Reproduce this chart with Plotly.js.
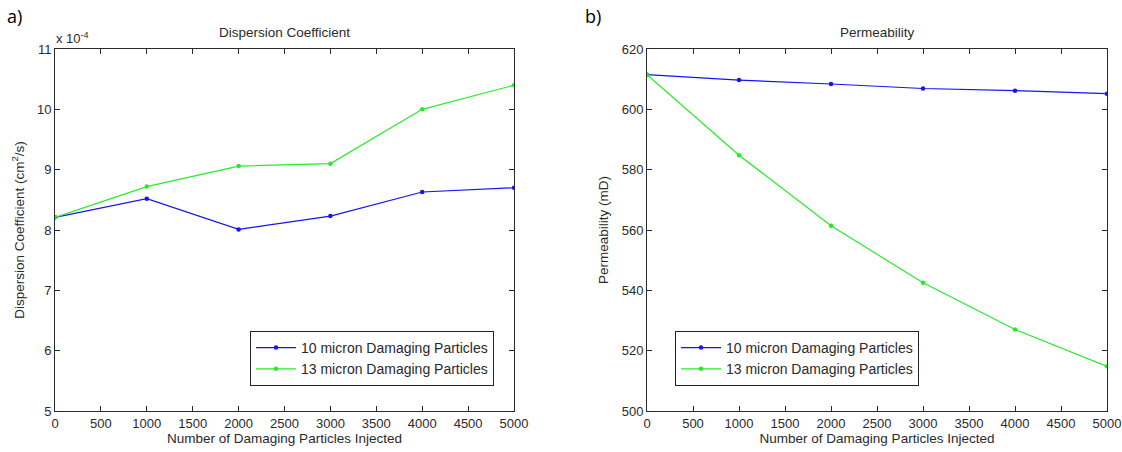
<!DOCTYPE html>
<html>
<head>
<meta charset="utf-8">
<script src="https://cdn.plot.ly/plotly-3.0.1.min.js"></script>
<style>html,body{margin:0;padding:0;background:#fff;}#chart{width:1122px;height:452px;}</style>
</head>
<body>
<div id="chart"></div>
<script>
// Shared x values
const particlesInjected = [0, 1000, 2000, 3000, 4000, 5000];
// Dispersion coefficient (units of 1e-4 cm^2/s)
const dispersion10 = [8.21, 8.52, 8.01, 8.23, 8.63, 8.70];
const dispersion13 = [8.21, 8.72, 9.06, 9.10, 10.00, 10.40];
// Permeability (mD)
const permeability10 = [611.5, 609.7, 608.4, 606.9, 606.2, 605.2];
const permeability13 = [611.5, 584.8, 561.4, 542.5, 527.0, 514.8];
const seriesNames = ["10 micron Damaging Particles", "13 micron Damaging Particles"];
const xTicks = [0, 500, 1000, 1500, 2000, 2500, 3000, 3500, 4000, 4500, 5000];

const BLUE = "rgb(20,20,245)";
const GREEN = "rgb(40,235,40)";
const TXT = "#2a2a2a";
const FONT = "Liberation Sans, Arial, sans-serif";

function tr(x, y, name, color, xa, ya, legend) {
  return {
    x: x, y: y, name: name, type: "scatter", mode: "lines+markers",
    line: {color: color, width: 1.2}, marker: {color: color, size: 4.5},
    xaxis: xa, yaxis: ya, legend: legend
  };
}

const data = [
  tr(particlesInjected, dispersion10, seriesNames[0], BLUE, "x", "y", "legend"),
  tr(particlesInjected, dispersion13, seriesNames[1], GREEN, "x", "y", "legend"),
  tr(particlesInjected, permeability10, seriesNames[0], BLUE, "x2", "y2", "legend2"),
  tr(particlesInjected, permeability13, seriesNames[1], GREEN, "x2", "y2", "legend2")
];

const W = 1122, H = 452;
const yDom = [1 - 411 / H, 1 - 49 / H];

function xax(dom, anchor) {
  return {
    domain: dom, anchor: anchor, range: [0, 5000], tickvals: xTicks,
    ticks: "inside", ticklen: 5, tickcolor: TXT, showline: true, linecolor: TXT,
    linewidth: 1, mirror: "ticks", showgrid: false, zeroline: false,
    tickfont: {family: FONT, size: 13, color: TXT},
    title: {text: "Number of Damaging Particles Injected", font: {family: FONT, size: 13.5, color: TXT}, standoff: 1}
  };
}
function yax(anchor, range, dtick, title) {
  return {
    domain: yDom, anchor: anchor, range: range, dtick: dtick,
    ticks: "inside", ticklen: 5, tickcolor: TXT, showline: true, linecolor: TXT,
    linewidth: 1, mirror: "ticks", showgrid: false, zeroline: false,
    tickfont: {family: FONT, size: 13, color: TXT},
    title: {text: title, font: {family: FONT, size: 13.5, color: TXT}, standoff: 9}
  };
}

const legendBase = {
  xanchor: "left", yanchor: "top",
  bordercolor: "#222", borderwidth: 1, bgcolor: "#fff",
  font: {family: FONT, size: 14, color: TXT}, tracegroupgap: 0,
  itemwidth: 40
};

const layout = {
  width: W, height: H,
  margin: {l: 0, r: 0, t: 0, b: 0},
  paper_bgcolor: "#fff", plot_bgcolor: "#fff",
  showlegend: true,
  xaxis: xax([55 / W, 514 / W], "y"),
  yaxis: yax("x", [5, 11], 1, "Dispersion Coefficient (cm<sup>2</sup>/s)"),
  xaxis2: xax([647 / W, 1107 / W], "y2"),
  yaxis2: yax("x2", [500, 620], 20, "Permeability (mD)"),
  legend: Object.assign({}, legendBase, {x: 250 / W, y: 1 - 331 / H}),
  legend2: Object.assign({}, legendBase, {x: 675 / W, y: 1 - 331 / H}),
  annotations: [
    {text: "a)", x: 5 / W, y: 1 - 16 / H, xref: "paper", yref: "paper", xanchor: "left", yanchor: "middle", showarrow: false, font: {family: "Open Sans, sans-serif", size: 18, color: "#000"}},
    {text: "b)", x: 583 / W, y: 1 - 16 / H, xref: "paper", yref: "paper", xanchor: "left", yanchor: "middle", showarrow: false, font: {family: "Open Sans, sans-serif", size: 18, color: "#000"}},
    {text: "Dispersion Coefficient", x: 284 / W, y: 1 - 33 / H, xref: "paper", yref: "paper", xanchor: "center", yanchor: "middle", showarrow: false, font: {family: FONT, size: 13.5, color: TXT}},
    {text: "Permeability", x: 877 / W, y: 1 - 33 / H, xref: "paper", yref: "paper", xanchor: "center", yanchor: "middle", showarrow: false, font: {family: FONT, size: 13.5, color: TXT}},
    {text: "x 10<sup>-4</sup>", x: 54 / W, y: 1 - 38 / H, xref: "paper", yref: "paper", xanchor: "left", yanchor: "middle", showarrow: false, font: {family: FONT, size: 13, color: TXT}}
  ]
};

Plotly.newPlot("chart", data, layout, {staticPlot: true, displayModeBar: false});
</script>
</body>
</html>
